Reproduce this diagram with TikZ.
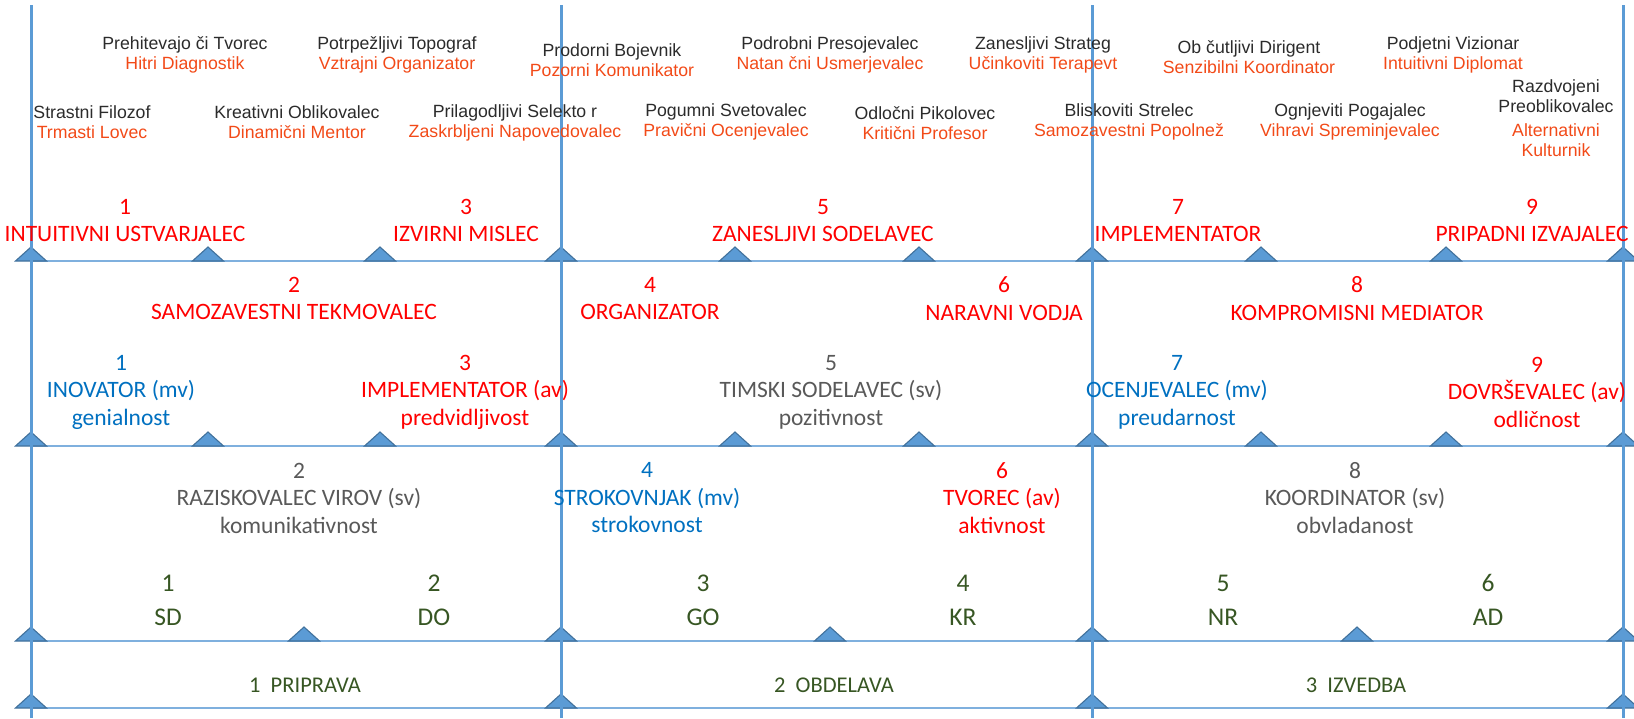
\documentclass[tikz,border=0pt]{standalone}
\usepackage{fontspec}
\setmainfont{Carlito}
\newfontfamily\arialf{Liberation Sans}
\definecolor{vline}{HTML}{5B9BD5}
\definecolor{hline}{HTML}{7FB0DE}
\definecolor{trifill}{HTML}{5B9BD5}
\definecolor{triedge}{HTML}{41719C}
\definecolor{cred}{HTML}{FF0000}
\definecolor{cblue}{HTML}{0070C0}
\definecolor{cgray}{HTML}{595959}
\definecolor{cgreen}{HTML}{375623}
\definecolor{corange}{HTML}{F24A18}
\definecolor{cdark}{HTML}{2B2B2B}
\tikzset{
  vln/.style={draw=vline, line width=3pt},
  hln/.style={draw=hline, line width=1.5pt},
  tri/.pic={\filldraw[fill=trifill, draw=triedge, line width=1.1pt, line join=miter] (-15.5,0) -- (0,-14) -- (15.5,0) -- cycle;},
  toptxt/.style={font=\arialf\fontsize{17.7}{20}\selectfont, align=center, inner sep=0pt, text=cdark},
  lbl/.style={font=\fontsize{23.5}{27.5}\selectfont, align=center, inner sep=0pt},
  grn/.style={font=\fontsize{25.5}{34}\selectfont, align=center, inner sep=0pt, text=cgreen},
  phase/.style={font=\fontsize{22.5}{26}\selectfont, align=center, inner sep=0pt, text=cgreen},
}
\begin{document}
\begin{tikzpicture}[x=1pt,y=-1pt]
\useasboundingbox (0,0) rectangle (1634,718);
% coordinates
\foreach \i/\x in {1/31,2/561,3/1092,4/1623}{
  \coordinate (t\i) at (\x,5);
  \coordinate (b\i) at (\x,718);
  \coordinate (h1\i) at (\x,261);
  \coordinate (h2\i) at (\x,446);
  \coordinate (h3\i) at (\x,641);
  \coordinate (h4\i) at (\x,708);
}
% horizontal lines
\draw[hln] (h11) -- (h14);
\draw[hln] (h21) -- (h24);
\draw[hln] (h31) -- (h34);
\draw[hln] (h41) -- (h44);
% triangles
\foreach \x in {31,208,380,561,735,919,1092,1261,1446,1623}{
  \pic at (\x,261) {tri};
  \pic at (\x,446) {tri};
}
\foreach \x in {31,304,561,830,1092,1357,1623}{
  \pic at (\x,641) {tri};
}
\foreach \x in {31,561,1092,1623}{
  \pic at (\x,708) {tri};
}
% vertical lines
\draw[vln] (t1) -- (b1);
\draw[vln] (t2) -- (b2);
\draw[vln] (t3) -- (b3);
\draw[vln] (t4) -- (b4);
% top names
\node[toptxt] (a1) at (185,55) {Prehitevajo či Tvorec\\\textcolor{corange}{Hitri Diagnostik}};
\node[toptxt] (a2) at (397,55) {Potrpežljivi Topograf\\\textcolor{corange}{Vztrajni Organizator}};
\node[toptxt] (a3) at (612,60) {Prodorni Bojevnik\\\textcolor{corange}{Pozorni Komunikator}};
\node[toptxt] (a4) at (830,55) {Podrobni Presojevalec\\\textcolor{corange}{Natan čni Usmerjevalec}};
\node[toptxt] (a5) at (1043,55) {Zanesljivi Strateg\\\textcolor{corange}{Učinkoviti Terapevt}};
\node[toptxt] (a6) at (1249,57.5) {Ob čutljivi Dirigent\\\textcolor{corange}{Senzibilni Koordinator}};
\node[toptxt] (a7) at (1453,55) {Podjetni Vizionar\\\textcolor{corange}{Intuitivni Diplomat}};
\node[toptxt] (c1) at (92,122.5) {Strastni Filozof\\\textcolor{corange}{Trmasti Lovec}};
\node[toptxt] (c2) at (297,122.5) {Kreativni Oblikovalec\\\textcolor{corange}{Dinamični Mentor}};
\node[toptxt] (c3) at (515,122.5) {Prilagodljivi Selekto r\\\textcolor{corange}{Zaskrbljeni Napovedovalec}};
\node[toptxt] (c4) at (726,121.5) {Pogumni Svetovalec\\\textcolor{corange}{Pravični Ocenjevalec}};
\node[toptxt] (c5) at (925,123) {Odločni Pikolovec\\\textcolor{corange}{Kritični Profesor}};
\node[toptxt] (c6) at (1129,121.5) {Bliskoviti Strelec\\\textcolor{corange}{Samozavestni Popolnež}};
\node[toptxt] (c7) at (1350,121.5) {Ognjeviti Pogajalec\\\textcolor{corange}{Vihravi Spreminjevalec}};
\node[toptxt] (c8) at (1556,118) {Razdvojeni\\Preoblikovalec\\[4pt]\textcolor{corange}{Alternativni}\\\textcolor{corange}{Kulturnik}};
% band 1
\node[lbl, text=cred] (r1) at (125,220.5) {1\\INTUITIVNI USTVARJALEC};
\node[lbl, text=cred] (r3) at (466,220.5) {3\\IZVIRNI MISLEC};
\node[lbl, text=cred] (r5) at (823,220.5) {5\\ZANESLJIVI SODELAVEC};
\node[lbl, text=cred] (r7) at (1178,220.5) {7\\IMPLEMENTATOR};
\node[lbl, text=cred] (r9) at (1532,220.5) {9\\PRIPADNI IZVAJALEC};
% band 2
\node[lbl, text=cred] (r2) at (294,298.5) {2\\SAMOZAVESTNI TEKMOVALEC};
\node[lbl, text=cred] (r4) at (650,298.5) {4\\ORGANIZATOR};
\node[lbl, text=cred] (r6) at (1004,298.5) {6\\NARAVNI VODJA};
\node[lbl, text=cred] (r8) at (1357,298.5) {8\\KOMPROMISNI MEDIATOR};
\node[lbl, text=cblue] (s1) at (121,392) {1\\INOVATOR (mv)\\genialnost};
\node[lbl, text=cred] (s3) at (465,392) {3\\IMPLEMENTATOR (av)\\predvidljivost};
\node[lbl, text=cgray] (s5) at (831,392) {5\\TIMSKI SODELAVEC (sv)\\pozitivnost};
\node[lbl, text=cblue] (s7) at (1177,392) {7\\OCENJEVALEC (mv)\\preudarnost};
\node[lbl, text=cred] (s9) at (1537,392) {9\\DOVRŠEVALEC (av)\\odličnost};
% band 3
\node[lbl, text=cgray] (s2) at (299,498) {2\\RAZISKOVALEC VIROV (sv)\\komunikativnost};
\node[lbl, text=cblue] (s4) at (647,498) {4\\STROKOVNJAK (mv)\\strokovnost};
\node[lbl, text=cred] (s6) at (1002,498) {6\\TVOREC (av)\\aktivnost};
\node[lbl, text=cgray] (s8) at (1355,498) {8\\KOORDINATOR (sv)\\obvladanost};
\node[grn] (g1) at (168,600) {1\\SD};
\node[grn] (g2) at (434,600) {2\\DO};
\node[grn] (g3) at (703,600) {3\\GO};
\node[grn] (g4) at (963,600) {4\\KR};
\node[grn] (g5) at (1223,600) {5\\NR};
\node[grn] (g6) at (1488,600) {6\\AD};
% band 4
\node[phase] (p1) at (305,685) {1\ \ PRIPRAVA};
\node[phase] (p2) at (834,685) {2\ \ OBDELAVA};
\node[phase] (p3) at (1356,685) {3\ \ IZVEDBA};
\end{tikzpicture}
\end{document}
